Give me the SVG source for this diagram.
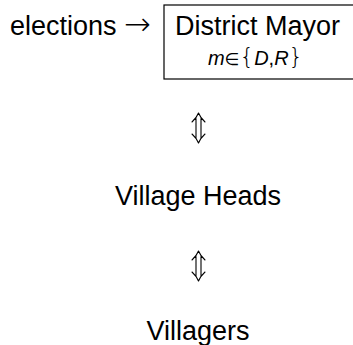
<svg xmlns="http://www.w3.org/2000/svg" width="353" height="345" viewBox="0 0 353 345">
<style>
.t{font-family:"Liberation Sans",Arial,sans-serif;fill:#000;}
.big{font-size:27px;}
.m{font-size:20px;}
.i{font-style:italic;}
.sym{font-family:"DejaVu Sans",sans-serif;}
.arr{fill:none;stroke:#000;stroke-width:1.1;stroke-linecap:round;stroke-linejoin:round;}
</style>
<rect width="353" height="345" fill="#fff"/>
<g id="elections">
<text class="t big" x="10" y="35">elections <tspan class="sym" x="124" font-size="32" font-weight="200">→</tspan></text>
</g>
<g id="mayor">
<rect x="164" y="5" width="192" height="74" fill="none" stroke="#000" stroke-width="1.2"/>
<text class="t big" x="175" y="35">District Mayor</text>
<text class="t m" x="208" y="65"><tspan class="i">m</tspan><tspan class="sym" font-size="17">∈</tspan><tspan class="sym" font-size="23" font-weight="200">{</tspan><tspan class="i">D</tspan>,<tspan class="i">R</tspan><tspan class="sym" font-size="23" font-weight="200">}</tspan></text>
</g>
<g id="heads">
<text class="t big" x="198" y="205" text-anchor="middle">Village Heads</text>
</g>
<g id="villagers">
<text class="t big" x="198" y="340" text-anchor="middle">Villagers</text>
</g>
<g id="connectors">
<g transform="translate(198.5,113)">
<path class="arr" d="M-6.5,9 Q-2,5 0,0 Q2,5 6.5,9 M-2.5,5.5 V24.5 M2.5,5.5 V24.5 M-6.5,21 Q-2,25 0,30 Q2,25 6.5,21"/>
</g>
<g transform="translate(198.5,251)">
<path class="arr" d="M-6.5,9 Q-2,5 0,0 Q2,5 6.5,9 M-2.5,5.5 V24.5 M2.5,5.5 V24.5 M-6.5,21 Q-2,25 0,30 Q2,25 6.5,21"/>
</g>
</g>
</svg>
